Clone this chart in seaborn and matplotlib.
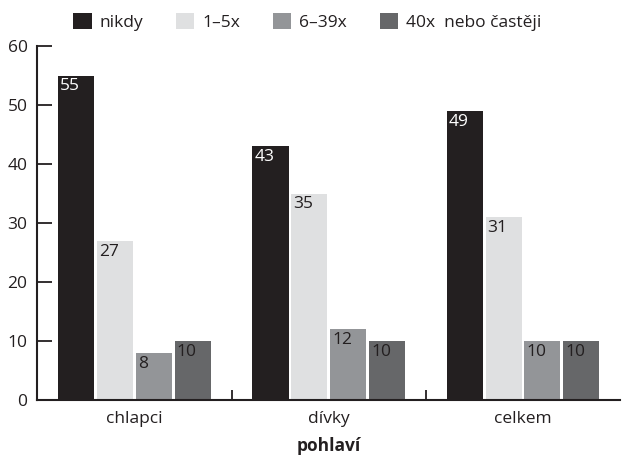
import matplotlib
matplotlib.use("Agg")
import matplotlib.pyplot as plt
import seaborn as sns
import pandas as pd
from matplotlib.patches import Patch

categories = ["chlapci", "dívky", "celkem"]
series = ["nikdy", "1–5x", "6–39x", "40x  nebo častěji"]
values_nikdy = [55, 43, 49]
values_1_5 = [27, 35, 31]
values_6_39 = [8, 12, 10]
values_40 = [10, 10, 10]
colors = ["#231f20", "#dfe0e1", "#939598", "#666769"]
label_colors = ["white", "#231f20", "#231f20", "#231f20"]

all_vals = [values_nikdy, values_1_5, values_6_39, values_40]
rows = []
for s, vals in zip(series, all_vals):
    for c, v in zip(categories, vals):
        rows.append({"pohlaví": c, "skupina": s, "hodnota": v})
df = pd.DataFrame(rows)

sns.set_theme(style="white")
plt.rcParams["font.family"] = ["Open Sans", "DejaVu Sans"]

FS = 12.5
fig = plt.figure(figsize=(6.22, 4.61), dpi=100)
ax = fig.add_axes([0.06, 0.132, 0.937, 0.768])

sns.barplot(data=df, x="pohlaví", y="hodnota", hue="skupina", order=categories,
            hue_order=series, palette=colors, width=0.8, gap=0.07,
            saturation=1, legend=False, ax=ax, linewidth=0, edgecolor="none")

for cont, vals, lc in zip(ax.containers, all_vals, label_colors):
    for p, v in zip(cont.patches, vals):
        ax.annotate(f"{v}", (p.get_x(), p.get_height()), xytext=(1.5, -2),
                    textcoords="offset points", ha="left", va="top",
                    color=lc, fontsize=FS)

ax.set_xlim(-0.5, 2.5)
ax.set_ylim(0, 60)
ax.set_yticks(range(0, 61, 10))
ax.set_xticks([0, 1, 2])
ax.set_xticklabels(categories)
ax.tick_params(axis="y", direction="in", length=11, width=1.3, color="#231f20",
               labelsize=FS, pad=7, labelcolor="#231f20", left=True)
ax.tick_params(axis="x", length=0, labelsize=FS, pad=8, labelcolor="#231f20")
ax.set_xticks([0.5, 1.5], minor=True)
ax.tick_params(axis="x", which="minor", direction="in", length=7, width=1.3,
               color="#231f20", bottom=True)

for side in ["top", "right"]:
    ax.spines[side].set_visible(False)
for side in ["left", "bottom"]:
    ax.spines[side].set_color("#231f20")
    ax.spines[side].set_linewidth(1.5)

ax.set_ylabel("")
ax.set_xlabel("pohlaví", fontweight="bold", fontsize=FS, color="#231f20", labelpad=7)

handles = [Patch(facecolor=c, edgecolor="none") for c in colors]
fig.legend(handles, series, loc="upper center", bbox_to_anchor=(0.494, 1.005),
           ncol=4, frameon=False, fontsize=FS, handlelength=1.05, handleheight=1.05,
           columnspacing=1.9, handletextpad=0.45, labelcolor="#231f20")

fig.savefig("out.png", dpi=100)
